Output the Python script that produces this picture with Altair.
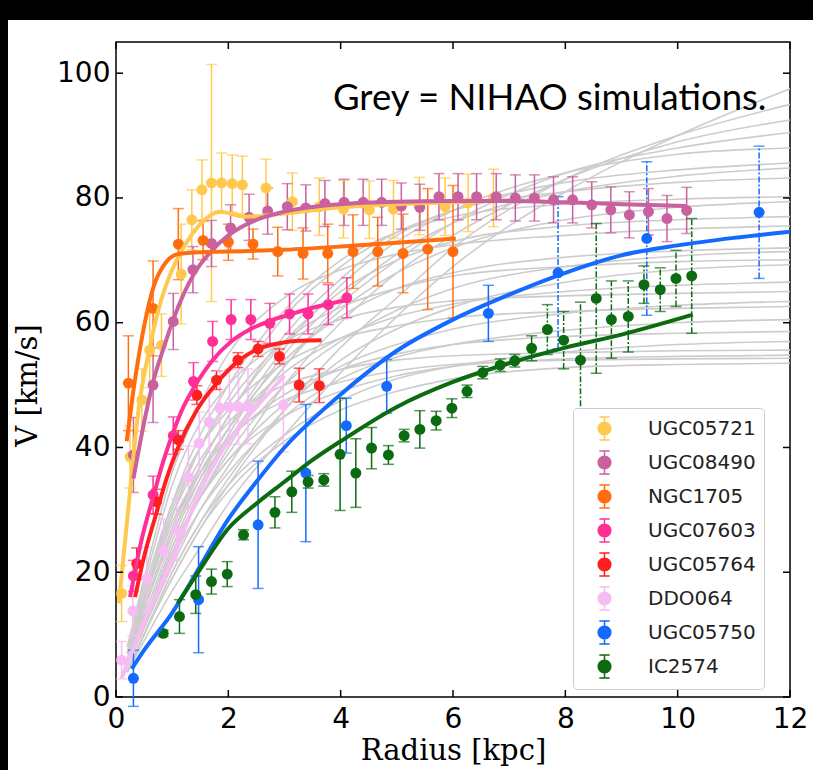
import altair as alt
import pandas as pd

NAMES = ["UGC05721", "UGC08490", "NGC1705", "UGC07603", "UGC05764", "DDO064", "UGC05750", "IC2574"]
COLORS = ["#ffc94f", "#c8619e", "#ff6d0e", "#ff2f96", "#ff1f1f", "#f8bcf4", "#1469ff", "#0c6b10"]

# ---- observed points (radius kpc, velocity km/s, error) ----
UGC05721_R = [0.10, 0.25, 0.46, 0.60, 0.81, 1.16, 1.35, 1.53, 1.70, 1.88, 2.07, 2.25, 2.67, 3.14, 3.62, 4.05, 4.51, 4.94, 5.40, 5.86, 6.27, 6.72]
UGC05721_V = [16.6, 38.5, 47.6, 55.6, 56.4, 67.8, 76.5, 81.3, 82.4, 82.4, 82.3, 82.1, 81.6, 79.4, 78.6, 78.2, 78.1, 78.2, 78.7, 78.6, 79.2, 80.0]
UGC05721_E = [4.5, 5.0, 5.0, 6.0, 5.0, 8.0, 4.8, 4.8, 19.0, 4.8, 4.6, 4.6, 4.6, 4.6, 4.6, 4.6, 4.6, 4.6, 4.6, 4.6, 4.6, 4.6]

UGC08490_R = [0.31, 0.66, 1.02, 1.37, 1.70, 2.04, 2.37, 2.70, 3.05, 3.38, 3.72, 4.06, 4.40, 4.73, 5.08, 5.41, 5.75, 6.09, 6.42, 6.77, 7.11, 7.45, 7.79, 8.13, 8.47, 8.81, 9.14, 9.48, 9.81, 10.16]
UGC08490_V = [38.8, 50.0, 60.2, 68.5, 72.7, 75.2, 76.9, 77.9, 78.6, 78.4, 79.1, 79.3, 79.3, 79.3, 78.7, 78.5, 80.2, 80.2, 80.2, 80.2, 80.0, 80.0, 79.7, 79.7, 78.9, 78.1, 77.3, 77.8, 76.7, 78.0]
UGC08490_E = [6.0, 6.0, 4.5, 3.7, 3.7, 3.7, 3.7, 3.7, 3.7, 3.7, 3.7, 3.7, 3.7, 3.7, 3.7, 3.7, 3.7, 3.7, 3.7, 3.7, 3.7, 3.7, 3.7, 3.7, 3.7, 3.7, 3.7, 3.7, 3.7, 3.7]

NGC1705_R = [0.22, 0.66, 1.11, 1.55, 2.00, 2.44, 2.88, 3.33, 3.77, 4.22, 4.66, 5.11, 5.55, 6.00]
NGC1705_V = [50.3, 62.3, 72.6, 73.2, 72.9, 72.6, 71.4, 71.1, 71.1, 71.4, 71.4, 71.1, 71.8, 71.4]
NGC1705_E = [7.6, 7.6, 5.7, 3.1, 2.9, 2.4, 3.9, 4.1, 4.7, 5.9, 5.5, 6.3, 9.7, 10.6]

UGC07603_R = [0.31, 0.66, 1.02, 1.38, 1.72, 2.05, 2.40, 2.74, 3.09, 3.42, 3.78, 4.11]
UGC07603_V = [19.4, 32.4, 41.9, 50.6, 57.0, 60.5, 60.5, 59.9, 61.4, 61.4, 62.9, 64.0]
UGC07603_E = [2.5, 3.0, 3.0, 3.0, 3.2, 3.2, 3.2, 3.2, 3.2, 3.2, 3.2, 3.2]

UGC05764_R = [0.37, 0.72, 1.11, 1.44, 1.79, 2.17, 2.53, 2.91, 3.26, 3.62]
UGC05764_V = [21.4, 31.3, 41.2, 48.4, 50.8, 54.0, 55.8, 54.6, 50.0, 49.9]
UGC05764_E = [2.5, 2.0, 1.5, 1.5, 1.5, 1.2, 1.2, 1.2, 2.7, 2.7]

DDO064_R = [0.10, 0.30, 0.55, 0.85, 1.08, 1.29, 1.48, 1.66, 1.85, 2.02, 2.18, 2.35, 2.98]
DDO064_V = [5.9, 13.8, 19.0, 23.5, 26.8, 35.2, 40.7, 44.1, 46.3, 46.5, 46.5, 46.6, 46.8]
DDO064_E = [3.0, 4.0, 5.0, 5.0, 5.0, 5.0, 5.0, 5.0, 6.0, 6.0, 6.0, 6.0, 7.5]

UGC05750_R = [0.31, 1.47, 2.53, 3.38, 4.10, 4.82, 6.63, 7.87, 9.45, 11.45]
UGC05750_V = [3.0, 15.6, 27.6, 35.9, 43.5, 49.8, 61.5, 68.0, 73.5, 77.7]
UGC05750_E = [4.5, 8.5, 10.2, 11.0, 4.4, 4.3, 4.5, 12.2, 12.3, 10.6]

IC2574_R = [0.84, 1.13, 1.42, 1.70, 1.98, 2.27, 2.83, 3.13, 3.42, 3.70, 3.99, 4.27, 4.55, 4.85, 5.13, 5.41, 5.70, 5.98, 6.25, 6.53, 6.84, 7.10, 7.40, 7.68, 7.97, 8.27, 8.55, 8.82, 9.12, 9.40, 9.69, 9.97, 10.25]
IC2574_V = [10.2, 12.9, 16.4, 18.5, 19.7, 26.0, 29.6, 32.9, 34.5, 34.8, 38.9, 35.9, 39.9, 38.8, 41.9, 42.9, 44.3, 46.3, 49.0, 52.0, 53.2, 53.9, 55.9, 58.9, 57.2, 54.0, 63.9, 60.5, 61.0, 66.1, 65.3, 67.1, 67.5]
IC2574_E = [0.5, 2.7, 3.0, 2.0, 2.0, 0.8, 2.5, 3.3, 1.0, 1.0, 9.0, 5.5, 3.3, 1.5, 1.0, 3.0, 1.5, 1.5, 1.0, 1.0, 1.0, 1.0, 2.0, 4.0, 4.6, 9.3, 12.0, 6.2, 5.7, 3.0, 3.5, 4.5, 9.2]

# ---- fitted model curves ----
UGC05721_FIT_R = [0.05, 0.25, 0.4, 0.6, 0.8, 1.0, 1.2, 1.5, 1.85, 2.3, 3.0, 4.0, 5.0, 6.0, 6.7]
UGC05721_FIT_V = [15.0, 33.0, 46.0, 56.0, 63.5, 68.5, 72.0, 75.8, 77.8, 77.0, 77.5, 78.5, 79.0, 79.3, 79.5]
UGC08490_FIT_R = [0.31, 0.5, 0.66, 0.85, 1.02, 1.2, 1.4, 1.7, 2.0, 2.5, 3.0, 4.0, 5.0, 6.0, 7.0, 8.0, 9.0, 10.16]
UGC08490_FIT_V = [35.0, 44.0, 50.5, 56.0, 60.5, 64.5, 68.0, 71.5, 74.0, 76.5, 77.8, 79.0, 79.4, 79.5, 79.5, 79.3, 79.0, 78.7]
NGC1705_FIT_R = [0.19, 0.3, 0.45, 0.66, 0.9, 1.11, 1.5, 2.0, 3.0, 4.0, 5.0, 6.05]
NGC1705_FIT_V = [41.0, 48.5, 57.0, 65.5, 69.8, 71.0, 71.3, 71.4, 71.7, 72.2, 72.8, 73.5]
UGC07603_FIT_R = [0.25, 0.45, 0.66, 0.85, 1.02, 1.2, 1.38, 1.72, 2.05, 2.4, 2.74, 3.09, 3.42, 3.78, 4.11]
UGC07603_FIT_V = [16.0, 25.0, 32.0, 38.0, 42.5, 46.5, 49.5, 54.0, 57.0, 59.0, 60.3, 61.3, 62.2, 63.0, 63.6]
UGC05764_FIT_R = [0.34, 0.5, 0.72, 0.9, 1.11, 1.44, 1.79, 2.17, 2.53, 2.91, 3.25, 3.66]
UGC05764_FIT_V = [16.0, 22.5, 29.5, 35.0, 40.1, 46.0, 50.3, 53.8, 55.8, 56.7, 57.1, 57.2]
DDO064_FIT_R = [0.1, 0.5, 1.0, 1.5, 2.0, 2.5, 3.0]
DDO064_FIT_V = [3.0, 12.0, 22.0, 33.0, 41.0, 46.5, 51.5]
UGC05750_FIT_R = [0.28, 0.5, 1.0, 1.5, 2.0, 2.5, 3.0, 3.5, 4.0, 5.0, 6.0, 7.0, 8.0, 9.0, 10.0, 11.0, 12.0]
UGC05750_FIT_V = [4.5, 7.5, 13.5, 21.0, 28.5, 34.5, 40.0, 44.5, 48.5, 55.5, 60.5, 64.5, 68.0, 70.8, 72.4, 73.6, 74.6]
IC2574_FIT_R = [1.1, 1.5, 2.0, 2.5, 3.0, 3.5, 4.0, 5.0, 6.0, 7.0, 8.0, 9.0, 10.27]
IC2574_FIT_V = [15.0, 20.5, 27.0, 31.0, 34.5, 38.0, 41.0, 46.5, 50.5, 53.5, 56.0, 58.1, 61.3]

# ---- NIHAO simulated curves (grey) ----
GREY_X = [0.2, 0.5, 1, 1.5, 2, 3, 4, 5, 6, 8, 10, 12]
GREY_CURVES = [
    [4, 9, 17, 24, 31, 42, 52, 61, 69, 81, 90, 97.5],
    [4, 10, 19, 27, 34, 46, 56, 64, 72, 83, 90, 95],
    [5, 11, 21, 30, 37, 50, 60, 68, 74, 83, 89, 92.5],
    [5, 12, 23, 32, 40, 53, 63, 70, 76, 84, 88, 90.5],
    [6, 13, 25, 35, 43, 56, 66, 73, 78, 84, 87, 88],
    [6, 14, 27, 37, 45, 58, 67, 74, 78, 82.5, 84.5, 85.6],
    [5, 12, 24, 34, 42, 55, 64, 71, 76, 81, 83.5, 84.8],
    [6, 15, 29, 40, 48, 61, 69, 74.5, 78, 81, 82.5, 83.2],
    [7, 16, 31, 42, 50, 62, 70, 74.5, 77, 79, 79.8, 80.2],
    [5, 12, 23, 33, 41, 53, 62, 68, 72, 76.5, 78.5, 79.4],
    [8, 19, 36, 47, 55, 64, 68.5, 71, 72.5, 74, 75, 75.5],
    [6, 14, 27, 37, 45, 57, 65, 70, 73, 75.5, 76.5, 77],
    [6, 14, 26, 36, 43, 54, 61, 65.5, 68, 70.5, 71.5, 72],
    [5, 12, 23, 32, 39, 50, 57, 62, 65.5, 69, 70.7, 71.4],
    [7, 16, 30, 40, 47, 57, 62.5, 65.5, 67.5, 69, 69.8, 70.1],
    [4, 10, 20, 28, 35, 46, 54, 59, 62.5, 66.5, 68.5, 69.3],
    [6, 14, 27, 36, 43, 52, 57.5, 61, 63, 65, 66, 66.5],
    [8, 18, 34, 44, 50, 57, 60.5, 62.5, 63.5, 64.3, 64.7, 65],
    [5, 12, 23, 32, 38, 47, 53, 56.5, 59, 61.5, 62.8, 63.4],
    [7, 17, 31, 40, 46, 53.5, 57.5, 59.5, 60.8, 61.8, 62.3, 62.6],
    [5, 11, 22, 30, 36, 45, 51, 54.5, 56.5, 58.8, 60, 60.5],
    [6, 14, 26, 35, 41, 48.5, 52.5, 55, 56.5, 57.8, 58.3, 58.6],
    [4, 10, 20, 28, 34, 42, 47.5, 51, 53, 55.3, 56.5, 57],
    [7, 16, 29, 38, 44, 50, 52.5, 54, 54.7, 55.2, 55.5, 55.6],
    [5, 12, 24, 32, 38, 45, 49, 51.5, 53, 54.2, 54.6, 54.8],
    [6, 15, 28, 36, 41.5, 47.5, 50.5, 52.3, 53.3, 54, 54.2, 54.3],
    [4, 10, 19, 27, 33, 41, 46, 49, 51, 52.8, 53.3, 53.5],
]

X_TICKS = [0, 2, 4, 6, 8, 10, 12]
Y_TICKS = [0, 20, 40, 60, 80, 100]
ANNOTATION = "Grey = NIHAO simulations."
X_TITLE = "Radius [kpc]"
Y_TITLE = "V [km/s]"

# ---------------- build tables ----------------
OBS = [
    (UGC05721_R, UGC05721_V, UGC05721_E), (UGC08490_R, UGC08490_V, UGC08490_E),
    (NGC1705_R, NGC1705_V, NGC1705_E), (UGC07603_R, UGC07603_V, UGC07603_E),
    (UGC05764_R, UGC05764_V, UGC05764_E), (DDO064_R, DDO064_V, DDO064_E),
    (UGC05750_R, UGC05750_V, UGC05750_E), (IC2574_R, IC2574_V, IC2574_E),
]
FITS = [
    (UGC05721_FIT_R, UGC05721_FIT_V), (UGC08490_FIT_R, UGC08490_FIT_V),
    (NGC1705_FIT_R, NGC1705_FIT_V), (UGC07603_FIT_R, UGC07603_FIT_V),
    (UGC05764_FIT_R, UGC05764_FIT_V), (DDO064_FIT_R, DDO064_FIT_V),
    (UGC05750_FIT_R, UGC05750_FIT_V), (IC2574_FIT_R, IC2574_FIT_V),
]

pts = []
for k, (name, (R, V, E)) in enumerate(zip(NAMES, OBS)):
    for r, v, e in zip(R, V, E):
        pts.append({"galaxy": name, "k": k, "r": r, "v": v, "lo": v - e, "hi": v + e})
pts = pd.DataFrame(pts)

fit = []
for k, (name, (R, V)) in enumerate(zip(NAMES, FITS)):
    for r, v in zip(R, V):
        fit.append({"galaxy": name, "k": k, "r": r, "v": v})
fit = pd.DataFrame(fit)

grey = []
for i, curve in enumerate(GREY_CURVES):
    for r, v in zip(GREY_X, curve):
        grey.append({"curve": i, "r": r, "v": v})
grey = pd.DataFrame(grey)

xt = pd.DataFrame({"t": X_TICKS})
yt = pd.DataFrame({"t": Y_TICKS})
one = pd.DataFrame({"a": [0]})

W, H = 674, 655
PAD = {"left": 116, "top": 42, "right": 23, "bottom": 73}
xs = alt.Scale(domain=[0, 12], nice=False, zero=False)
ys = alt.Scale(domain=[0, 105], nice=False, zero=False)

x_axis = alt.Axis(values=X_TICKS, ticks=False, domain=False, grid=False, labelFont="DejaVu Sans",
                  labelFontSize=28, labelColor="black", labelPadding=8, labelFlush=False, labelOverlap=False,
                  title=X_TITLE, titleFont="DejaVu Serif", titleFontSize=29, titleFontWeight="normal",
                  titleColor="black", titlePadding=3)
y_axis = alt.Axis(values=Y_TICKS, ticks=False, domain=False, grid=False, labelFont="DejaVu Sans",
                  labelFontSize=28, labelColor="black", labelPadding=6, labelOverlap=False,
                  title=Y_TITLE, titleFont="DejaVu Serif", titleFontSize=29, titleFontWeight="normal",
                  titleColor="black", titlePadding=14, titleY=343)

SYM = "M-0.45,-1H0.45M0,-1V1M-0.45,1H0.45M0.55,0A0.55,0.55,0,1,1,-0.55,0A0.55,0.55,0,1,1,0.55,0Z"

legend = alt.Legend(title=None, orient="none", legendX=457, legendY=366, fillColor="white",
                    strokeColor="#cccccc", cornerRadius=4, padding=8, labelFont="DejaVu Sans",
                    labelFontSize=20, labelColor="#222222", symbolType=SYM, symbolSize=529,
                    symbolStrokeWidth=1.5, symbolOffset=11, labelOffset=31, rowPadding=5,
                    symbolOpacity=1, symbolStrokeColor="#888888",
                    labelExpr="datum.label + '    '")

cscale = alt.Scale(domain=NAMES, range=COLORS)
X = alt.X("r:Q", scale=xs, axis=x_axis, title=X_TITLE)
Y = alt.Y("v:Q", scale=ys, axis=y_axis, title=Y_TITLE)
C = alt.Color("galaxy:N", scale=cscale, legend=legend, sort=NAMES)

grey_layer = alt.Chart(grey).mark_line(color="#cccccc", strokeWidth=1.6, interpolate="monotone").encode(
    x=X, y=Y, detail="curve:N")

dash = alt.condition("datum.r > 7.6 && (datum.galaxy == 'UGC05750' || datum.galaxy == 'IC2574')",
                     alt.value([6, 2, 2, 2]), alt.value([1, 0]))

bars = alt.Chart(pts).mark_rule(strokeWidth=1.5).encode(
    x=X, y=alt.Y("lo:Q", scale=ys, axis=y_axis, title=Y_TITLE), y2="hi:Q", color=C, strokeDash=dash)
cap_lo = alt.Chart(pts).mark_tick(orient="horizontal", size=11, thickness=1.5).encode(
    x=X, y=alt.Y("lo:Q", scale=ys, axis=y_axis, title=Y_TITLE), color=C)
cap_hi = alt.Chart(pts).mark_tick(orient="horizontal", size=11, thickness=1.5).encode(
    x=X, y=alt.Y("hi:Q", scale=ys, axis=y_axis, title=Y_TITLE), color=C)
dots = alt.Chart(pts).mark_circle(size=120, opacity=1).encode(x=X, y=Y, color=C, order="k:Q")
fits = alt.Chart(fit).mark_line(strokeWidth=4, interpolate="monotone").encode(
    x=X, y=Y, color=C, detail="galaxy:N")

tb = alt.Chart(xt).mark_rule(color="black", strokeWidth=1.5).encode(
    x=alt.X("t:Q", scale=xs, axis=x_axis, title=X_TITLE), y=alt.value(H), y2=alt.value(H - 7))
tt = alt.Chart(xt).mark_rule(color="black", strokeWidth=1.5).encode(
    x=alt.X("t:Q", scale=xs, axis=x_axis, title=X_TITLE), y=alt.value(0), y2=alt.value(7))
tl = alt.Chart(yt).mark_rule(color="black", strokeWidth=1.5).encode(
    y=alt.Y("t:Q", scale=ys, axis=y_axis, title=Y_TITLE), x=alt.value(0), x2=alt.value(7))
tr = alt.Chart(yt).mark_rule(color="black", strokeWidth=1.5).encode(
    y=alt.Y("t:Q", scale=ys, axis=y_axis, title=Y_TITLE), x=alt.value(W), x2=alt.value(W - 7))

note = alt.Chart(one).mark_text(text=ANNOTATION, font="Lato", fontSize=36.5, align="left",
                                baseline="alphabetic", color="black").encode(
    x=alt.value(217), y=alt.value(68))

# black strips at the top and left of the picture frame
band_top = alt.Chart(one).mark_rect(color="black").encode(
    x=alt.value(-PAD["left"]), x2=alt.value(W + PAD["right"]), y=alt.value(-PAD["top"]), y2=alt.value(-22))
band_left = alt.Chart(one).mark_rect(color="black").encode(
    x=alt.value(-PAD["left"]), x2=alt.value(-108), y=alt.value(-PAD["top"]), y2=alt.value(H + PAD["bottom"]))

chart = alt.layer(
    grey_layer, bars, cap_lo, cap_hi, dots, fits, tb, tt, tl, tr, note, band_top, band_left
).properties(
    width=W, height=H, autosize=alt.AutoSizeParams(type="none"),
    padding=PAD, background="white",
).configure_view(stroke="black", strokeWidth=1.5)

chart.save("out.html", embed_options={"renderer": "svg", "actions": False})
